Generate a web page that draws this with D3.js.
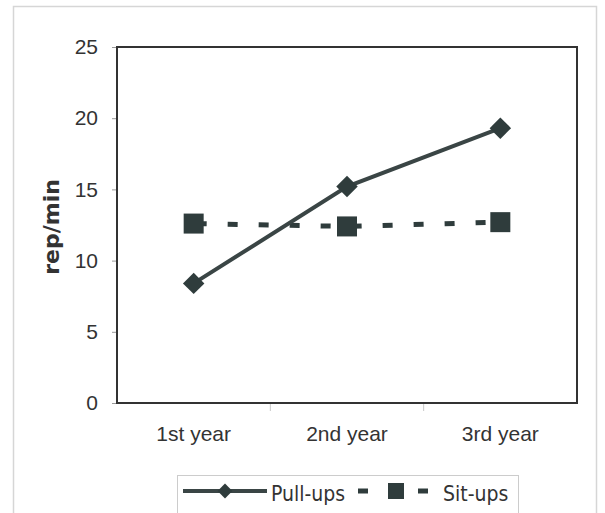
<!DOCTYPE html>
<html>
<head>
<meta charset="utf-8">
<script src="https://cdn.jsdelivr.net/npm/d3@7/dist/d3.min.js"></script>
<style>
  html, body { margin: 0; padding: 0; background: #fff; }
  svg { display: block; font-family: "DejaVu Sans Condensed", "DejaVu Sans", sans-serif; }
</style>
</head>
<body>
<div id="chart"></div>
<script>
const categories = ['1st year', '2nd year', '3rd year'];
const pullUps = [8.4, 15.2, 19.3];
const sitUps = [12.6, 12.4, 12.7];
const yTicks = [0, 5, 10, 15, 20, 25];

const WIDTH = 605;
const HEIGHT = 513;
const PLOT = { left: 117, right: 577, top: 47, bottom: 403 };
const LINE_COLOR = '#3a4545';
const MARK_COLOR = '#2f3c3c';

const svg = d3.select('#chart')
  .append('svg')
  .attr('width', WIDTH)
  .attr('height', HEIGHT);

// outer chart frame (faint, as in the scan)
svg.append('rect')
  .attr('x', 13.5)
  .attr('y', 6.5)
  .attr('width', 583)
  .attr('height', 520)
  .attr('fill', 'none')
  .attr('stroke', '#d6d6d6')
  .attr('stroke-width', 1.5);

const x = d3.scaleBand()
  .domain(categories)
  .range([PLOT.left, PLOT.right]);
const cx = (c) => x(c) + x.bandwidth() / 2;

const y = d3.scaleLinear()
  .domain([0, 25])
  .range([PLOT.bottom, PLOT.top]);

// y axis labels + small ticks
const yAxis = svg.append('g')
  .attr('transform', `translate(${PLOT.left}, 0)`)
  .call(d3.axisLeft(y).tickValues(yTicks).tickSize(5).tickPadding(14).tickFormat(d3.format('d')));
yAxis.select('.domain').remove();
yAxis.selectAll('.tick line').attr('stroke', '#999');
yAxis.selectAll('.tick text')
  .attr('font-size', '21px')
  .attr('fill', '#333');

// x axis labels
const xAxis = svg.append('g')
  .attr('transform', `translate(0, ${PLOT.bottom})`)
  .call(d3.axisBottom(x).tickSize(0).tickPadding(23));
xAxis.select('.domain').remove();
xAxis.selectAll('.tick text')
  .attr('font-size', '21px')
  .attr('fill', '#333');

// category boundary ticks (light, below the axis)
svg.append('g')
  .selectAll('line')
  .data(categories.slice(1))
  .join('line')
  .attr('x1', d => x(d))
  .attr('x2', d => x(d))
  .attr('y1', PLOT.bottom)
  .attr('y2', PLOT.bottom + 8)
  .attr('stroke', '#c8c8c8')
  .attr('stroke-width', 1);

// plot frame
svg.append('rect')
  .attr('x', PLOT.left)
  .attr('y', PLOT.top)
  .attr('width', PLOT.right - PLOT.left)
  .attr('height', PLOT.bottom - PLOT.top)
  .attr('fill', 'none')
  .attr('stroke', '#333')
  .attr('stroke-width', 2);

// y title
svg.append('text')
  .attr('transform', `translate(59, 227) rotate(-90)`)
  .attr('text-anchor', 'middle')
  .attr('font-family', '"DejaVu Sans", sans-serif')
  .attr('font-weight', 'bold')
  .attr('font-size', '22px')
  .attr('fill', '#333')
  .text('rep/min');

// Sit-ups (dashed, squares)
const sitData = categories.map((c, i) => ({ c, v: sitUps[i] }));
svg.append('path')
  .datum(sitData)
  .attr('fill', 'none')
  .attr('stroke', MARK_COLOR)
  .attr('stroke-width', 5)
  .attr('stroke-dasharray', '10,21')
  .attr('stroke-dashoffset', 28)
  .attr('d', d3.line().x(d => cx(d.c)).y(d => y(d.v)));

svg.append('g')
  .selectAll('rect')
  .data(sitData)
  .join('rect')
  .attr('x', d => cx(d.c) - 10)
  .attr('y', d => y(d.v) - 10)
  .attr('width', 20)
  .attr('height', 20)
  .attr('fill', MARK_COLOR);

// Pull-ups (solid, diamonds)
const pullData = categories.map((c, i) => ({ c, v: pullUps[i] }));
svg.append('path')
  .datum(pullData)
  .attr('fill', 'none')
  .attr('stroke', LINE_COLOR)
  .attr('stroke-width', 4)
  .attr('d', d3.line().x(d => cx(d.c)).y(d => y(d.v)));

const diamond = d3.symbol().type(d3.symbolSquare).size(230);
svg.append('g')
  .selectAll('path')
  .data(pullData)
  .join('path')
  .attr('transform', d => `translate(${cx(d.c)}, ${y(d.v)}) rotate(45)`)
  .attr('d', diamond)
  .attr('fill', MARK_COLOR);

// Legend
const legend = svg.append('g');
legend.append('rect')
  .attr('x', 177.5)
  .attr('y', 475.5)
  .attr('width', 341)
  .attr('height', 50)
  .attr('fill', '#fff')
  .attr('stroke', '#ccc')
  .attr('stroke-width', 1);

const LY = 491;
legend.append('line')
  .attr('x1', 183).attr('x2', 267)
  .attr('y1', LY).attr('y2', LY)
  .attr('stroke', LINE_COLOR)
  .attr('stroke-width', 4);
legend.append('path')
  .attr('transform', `translate(225, ${LY}) rotate(45)`)
  .attr('d', d3.symbol().type(d3.symbolSquare).size(110))
  .attr('fill', MARK_COLOR);
legend.append('text')
  .attr('x', 271).attr('y', 501)
  .attr('font-size', '21px')
  .attr('fill', '#333')
  .text('Pull-ups');

legend.append('line')
  .attr('x1', 358).attr('x2', 368)
  .attr('y1', LY).attr('y2', LY)
  .attr('stroke', MARK_COLOR)
  .attr('stroke-width', 5);
legend.append('rect')
  .attr('x', 388).attr('y', LY - 8)
  .attr('width', 16).attr('height', 16)
  .attr('fill', MARK_COLOR);
legend.append('line')
  .attr('x1', 418).attr('x2', 428)
  .attr('y1', LY).attr('y2', LY)
  .attr('stroke', MARK_COLOR)
  .attr('stroke-width', 5);
legend.append('text')
  .attr('x', 443).attr('y', 501)
  .attr('font-size', '21px')
  .attr('fill', '#333')
  .text('Sit-ups');
</script>
</body>
</html>
